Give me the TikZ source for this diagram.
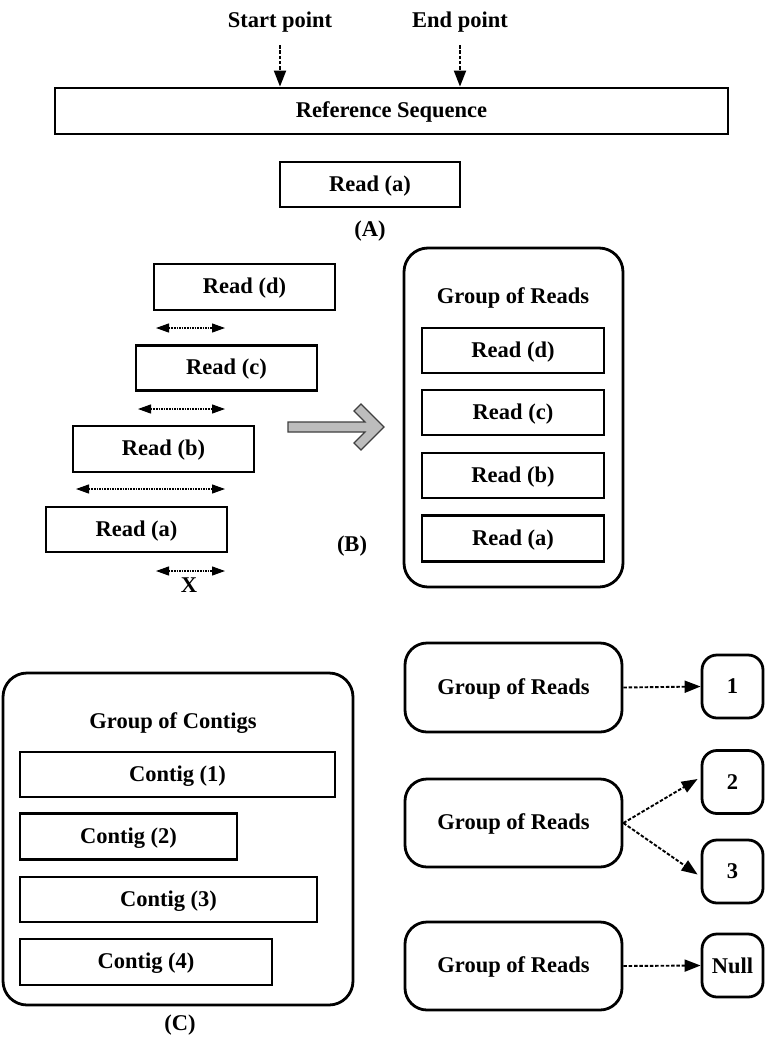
\documentclass[tikz,border=0pt]{standalone}
\usepackage{fontspec}
\setmainfont{Liberation Serif}
\usetikzlibrary{arrows.meta}
\definecolor{arrowgray}{HTML}{BDBDBD}
\definecolor{arrowedge}{HTML}{404040}
\begin{document}
\begin{tikzpicture}[x=1pt,y=-1pt,
  font=\fontsize{22.5}{26}\selectfont\bfseries,
  sbox/.style={draw,line width=2.8pt,inner sep=0pt,text depth=2pt},
  rbox/.style={draw,line width=2.8pt,inner sep=0pt,rounded corners=24pt,text depth=2pt},
  smallr/.style={draw,line width=2.8pt,inner sep=0pt,rounded corners=15pt},
  lbl/.style={inner sep=0pt},
  conn/.style={line width=1.9pt,dash pattern=on 3.5pt off 1.8pt,
    -{Triangle[length=16pt,width=12pt]}},
  dimarrow/.style={line width=1.2pt,dash pattern=on 1.6pt off 1pt,
    {Triangle[length=13pt,width=9pt]}-{Triangle[length=13pt,width=9pt]}}
]
\useasboundingbox (0,0) rectangle (767,1039);
\fill[white] (0,0) rectangle (767,1039);

% ---------- (A) ----------
\node[lbl] (start) at (280,22) {Start point};
\node[lbl] (end) at (460,22) {End point};
\node[sbox,minimum width=673,minimum height=46] (ref) at (391.5,111) {Reference Sequence};
\coordinate (sa) at (280,45);
\coordinate (ea) at (460,45);
\draw[conn] (sa) -- (sa |- ref.north);
\draw[conn] (ea) -- (ea |- ref.north);
\node[sbox,minimum width=180,minimum height=45] (ra) at (370,184.5) {Read (a)};
\node[lbl] (labA) at (370,231) {(A)};

% ---------- (B) ----------
\node[sbox,minimum width=181,minimum height=46] (bd) at (244.5,287) {Read (d)};
\node[sbox,minimum width=181,minimum height=45] (bc) at (226.5,368) {Read (c)};
\node[sbox,minimum width=181,minimum height=46] (bb) at (163.5,449) {Read (b)};
\node[sbox,minimum width=181,minimum height=45] (ba) at (136.5,529.5) {Read (a)};

\coordinate (d1) at (156,328); \coordinate (d2) at (225,328);
\coordinate (c1) at (138,409); \coordinate (c2) at (225,409);
\coordinate (b1) at (76,489);  \coordinate (b2) at (225,489);
\coordinate (x1) at (156,571); \coordinate (x2) at (225,571);
\draw[dimarrow] (d1) -- (d2);
\draw[dimarrow] (c1) -- (c2);
\draw[dimarrow] (b1) -- (b2);
\draw[dimarrow] (x1) -- (x2);
\node[lbl] (xl) at (189,585) {X};
\node[lbl] (labB) at (352,546) {(B)};

% big gray arrow
\filldraw[fill=arrowgray,draw=arrowedge,line width=1.1pt,line join=miter]
  (288,422) -- (365,422) -- (354,411) -- (361,404) -- (384,427)
  -- (361,450) -- (354,443) -- (365,432) -- (288,432) -- cycle;

\node[rbox,minimum width=219,minimum height=339] (grB) at (513.5,417.5) {};
\node[lbl] (grBt) at (513,298) {Group of Reads};
\node[sbox,minimum width=182,minimum height=45] (gd) at (513,350.5) {Read (d)};
\node[sbox,minimum width=182,minimum height=45] (gc) at (513,412.5) {Read (c)};
\node[sbox,minimum width=182,minimum height=45] (gb) at (513,475.5) {Read (b)};
\node[sbox,minimum width=182,minimum height=46] (ga) at (513,538.5) {Read (a)};

% ---------- (C) ----------
\node[rbox,minimum width=350,minimum height=332] (gc0) at (178,839) {};
\node[lbl] (gct) at (173,723) {Group of Contigs};
\node[sbox,minimum width=315,minimum height=45] (c1n) at (177.5,774.5) {Contig (1)};
\node[sbox,minimum width=217,minimum height=46] (c2n) at (128.5,836.5) {Contig (2)};
\node[sbox,minimum width=297,minimum height=45] (c3n) at (168.5,899.5) {Contig (3)};
\node[sbox,minimum width=252,minimum height=46] (c4n) at (146,962) {Contig (4)};
\node[lbl] (labC) at (180,1025) {(C)};

\node[rbox,rounded corners=22pt,minimum width=217,minimum height=89] (g1) at (513.5,687.5) {Group of Reads};
\node[rbox,rounded corners=22pt,minimum width=217,minimum height=88] (g2) at (513.5,823) {Group of Reads};
\node[rbox,rounded corners=22pt,minimum width=217,minimum height=88] (g3) at (513.5,966) {Group of Reads};

\node[smallr,minimum width=61,minimum height=63] (n1) at (732.5,686.5) {1};
\node[smallr,minimum width=61,minimum height=63] (n2) at (732.5,782) {2};
\node[smallr,minimum width=61,minimum height=63] (n3) at (732.5,871.5) {3};
\node[smallr,minimum width=61,minimum height=63] (nn) at (732.5,965.5) {Null};

\draw[conn] (g1.east) -- (n1.west);
\draw[conn] (g2.east) -- ([xshift=-3pt,yshift=3pt]n2.west);
\draw[conn] (g2.east) -- ([xshift=-3pt,yshift=-3pt]n3.west);
\draw[conn] (g3.east) -- (nn.west);
\end{tikzpicture}
\end{document}
